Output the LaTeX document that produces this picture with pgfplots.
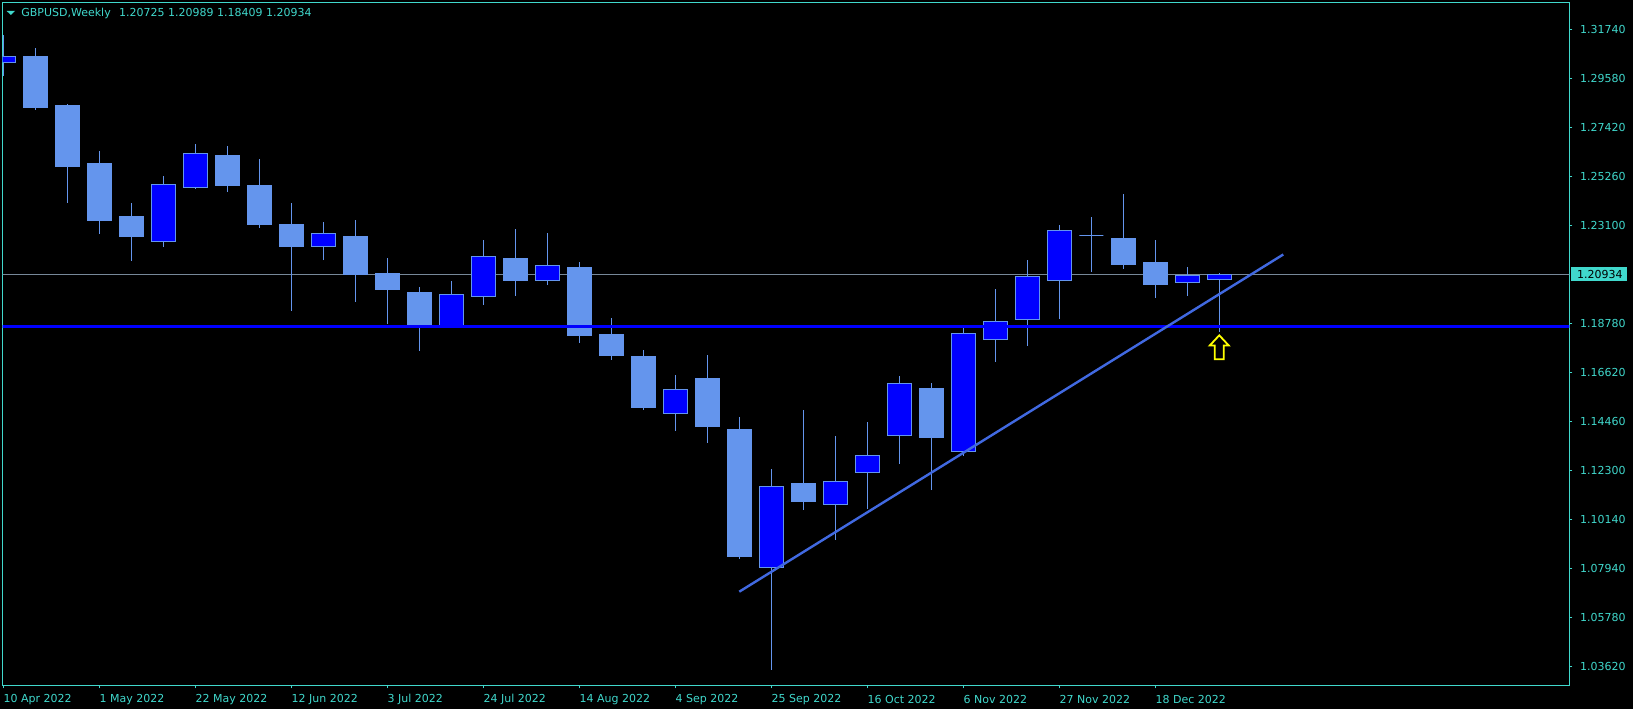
\documentclass[border=0pt]{standalone}
\usepackage{fontspec}
\setmainfont{DejaVu Sans}
\usepackage{pgfplots}
\usepackage{pgfplotstable}
\pgfplotsset{compat=1.18}
\definecolor{turq}{RGB}{64,216,204}
\definecolor{cfblue}{RGB}{100,149,237}
\definecolor{bullfill}{RGB}{0,0,255}
\definecolor{bearfill}{RGB}{100,149,237}
\definecolor{bidgrey}{RGB}{119,136,153}
\definecolor{trendcol}{RGB}{65,105,225}
\definecolor{arrowcol}{RGB}{255,255,0}

\pgfplotstableread{
i o h l c
0 1.30285 1.31489 1.29695 1.30550
1 1.30519 1.30916 1.28196 1.28284
2 1.28359 1.28447 1.24096 1.25683
3 1.25846 1.26375 1.22730 1.23303
4 1.23466 1.24083 1.21539 1.22597
5 1.22395 1.25273 1.22157 1.24907
6 1.24775 1.26684 1.24713 1.26274
7 1.26155 1.26596 1.24568 1.24846
8 1.24876 1.26023 1.22981 1.23126
9 1.23157 1.24083 1.19335 1.22157
10 1.22165 1.23245 1.21570 1.22747
11 1.22628 1.23334 1.19732 1.20922
12 1.20997 1.21658 1.18749 1.20261
13 1.20116 1.20380 1.17559 1.18674
14 1.18674 1.20644 1.18586 1.20058
15 1.19952 1.22452 1.19587 1.21733
16 1.21658 1.22937 1.19983 1.20658
17 1.20675 1.22760 1.20468 1.21337
18 1.21218 1.21482 1.17925 1.18233
19 1.18308 1.19013 1.17175 1.17352
20 1.17338 1.17603 1.14971 1.15059
21 1.14813 1.16501 1.14045 1.15870
22 1.16325 1.17382 1.13517 1.14222
23 1.14120 1.14649 1.08403 1.08491
24 1.08024 1.12357 1.03497 1.11595
25 1.11696 1.14958 1.10563 1.10916
26 1.10801 1.13812 1.09241 1.11815
27 1.12212 1.14429 1.10607 1.12961
28 1.13825 1.16457 1.12591 1.16135
29 1.15884 1.16148 1.11431 1.13737
30 1.13137 1.18573 1.12930 1.18339
31 1.18075 1.20292 1.17087 1.18868
32 1.18956 1.21570 1.17792 1.20852
33 1.20675 1.23113 1.18983 1.22880
34 1.22659 1.23466 1.21054 1.22659
35 1.22540 1.24480 1.21187 1.21363
36 1.21482 1.22452 1.19908 1.20481
37 1.20587 1.21262 1.19996 1.20896
38 1.20725 1.20989 1.18409 1.20934
}\candles

\pgfplotsset{
  wick/.style={draw=cfblue, line width=0.5pt, mark=none, forget plot},
  body/.style={draw=cfblue, line width=0.5pt, mark=none, line join=miter, forget plot},
}
\newcommand{\lblfont}{\fontsize{5.5pt}{6.6pt}\selectfont}

\begin{document}
\begin{tikzpicture}
\fill[black] (-1.35pt,-11.85pt) rectangle (815.15pt,342.65pt);
\begin{axis}[
  at={(0pt,0pt)}, anchor=south west,
  scale only axis, width=783.3pt, height=341.5pt,
  xmin=-0.019, xmax=48.94, ymin=1.02822, ymax=1.32930,
  axis line style={draw=turq, line width=0.5pt},
  axis background/.style={fill=black},
  xtick={0,3,...,36},
  xticklabels={10 Apr 2022,1 May 2022,22 May 2022,12 Jun 2022,3 Jul 2022,24 Jul 2022,14 Aug 2022,4 Sep 2022,25 Sep 2022,16 Oct 2022,6 Nov 2022,27 Nov 2022,18 Dec 2022},
  ytick={1.3174,1.2958,1.2742,1.2526,1.2310,1.1878,1.1662,1.1446,1.1230,1.1014,1.0798,1.0582,1.0366},
  yticklabels={1.31740,1.29580,1.27420,1.25260,1.23100,1.18780,1.16620,1.14460,1.12300,1.10140,1.07940,1.05780,1.03620},
  xtick pos=bottom, ytick pos=right, yticklabel pos=right,
  tick align=outside, major tick length=1.5pt,
  tick style={draw=turq, line width=0.5pt},
  ticklabel style={font=\lblfont, text=turq, inner sep=0pt},
  xticklabel style={anchor=west, yshift=-5.7pt},
  yticklabel style={anchor=west, xshift=3.7pt},
  clip=true,
]
\addplot[draw=bidgrey, line width=0.5pt, forget plot] coordinates {(-1,1.20934) (50,1.20934)};

\pgfplotsinvokeforeach{0,...,38}{
  \pgfplotstablegetelem{#1}{o}\of\candles \let\vo\pgfplotsretval
  \pgfplotstablegetelem{#1}{h}\of\candles \let\vh\pgfplotsretval
  \pgfplotstablegetelem{#1}{l}\of\candles \let\vl\pgfplotsretval
  \pgfplotstablegetelem{#1}{c}\of\candles \let\vc\pgfplotsretval
  \pgfmathsetmacro\xa{#1-0.375}
  \pgfmathsetmacro\xb{#1+0.375}
  \pgfmathparse{(\vc>\vo)?1:0}
  \ifdim\pgfmathresult pt>0.5pt \def\bodycol{bullfill}\else\def\bodycol{bearfill}\fi
  \edef\tmp{\noexpand\addplot[wick] coordinates {(#1,\vl) (#1,\vh)};
    \noexpand\addplot[body,fill=\bodycol] coordinates {(#1,\vo) (\xb,\vo) (\xb,\vc) (\xa,\vc) (\xa,\vo) (#1,\vo)};}
  \tmp
}

\addplot[draw=bullfill, line width=1.5pt, forget plot] coordinates {(-1,1.18647) (50,1.18647)};
\addplot[draw=trendcol, line width=1.2pt, forget plot] coordinates {(23,1.06948) (40,1.21813)};
\addplot[draw=arrowcol, fill=black, line width=0.9pt, line join=miter, forget plot] coordinates {
  (38,1.17193) (38.141,1.17193) (38.141,1.17801) (38.297,1.17801) (38,1.18251)
  (37.703,1.17801) (37.859,1.17801) (37.859,1.17193) (38,1.17193)};
\end{axis}
% title
\fill[turq] (2.0pt,337.15pt) -- (6.15pt,337.15pt) -- (4.075pt,335.15pt) -- cycle;
\node[anchor=base west, inner sep=0pt, text=turq, font=\lblfont] at (9.15pt,334.3pt)
  {GBPUSD,Weekly\hspace{4.2pt}1.20725 1.20989 1.18409 1.20934};
% current price box
\fill[turq] (784.15pt,202.3pt) rectangle (812.15pt,209pt);
\node[anchor=west, inner sep=0pt, text=black, font=\lblfont] at (787pt,205.45pt) {1.20934};
\pgfresetboundingbox
\path (-1.35pt,-11.85pt) rectangle (815.15pt,342.65pt);
\end{tikzpicture}
\end{document}
